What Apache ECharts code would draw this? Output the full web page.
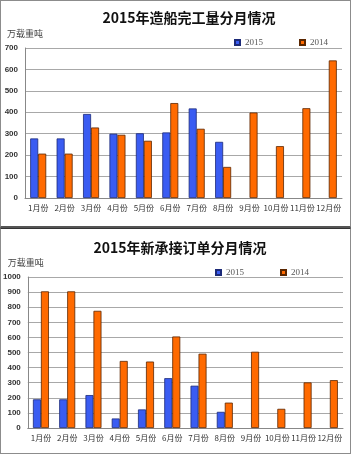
<!DOCTYPE html>
<html>
<head>
<meta charset="utf-8">
<script src="https://cdn.jsdelivr.net/npm/echarts@6/dist/echarts.min.js"></script>
<style>
html,body{margin:0;padding:0;background:#fff;width:351px;height:454px;overflow:hidden;}
.chart{position:absolute;left:0;width:351px;}
.frame{position:absolute;left:0;width:351px;box-sizing:border-box;border:1px solid #8c8c8c;pointer-events:none;}
#wg{top:0;height:228px;}
#dd{top:229px;height:225px;}
#f1{top:0;height:228px;border-bottom:2px solid #555;}
#f2{top:228px;height:226px;border-top:1px solid #333;}
</style>
</head>
<body>
<div id="wg" class="chart"></div>
<div id="dd" class="chart"></div>
<div id="f1" class="frame"></div>
<div id="f2" class="frame"></div>
<script>
	//月份
	var months = ['1月份','2月份','3月份','4月份','5月份','6月份','7月份','8月份','9月份','10月份','11月份','12月份'];
	var legendNames = ['2015','2014'];
	//造船完工量（万载重吨）
	var wg2015 = [278,278,392,300,302,306,418,262,null,null,null,null];
	var wg2014 = [207,207,329,295,267,443,323,145,399,242,419,642];
	//新承接订单（万载重吨）
	var dd2015 = [190,190,218,63,123,330,280,107,null,null,null,null];
	var dd2014 = [905,905,776,444,440,606,492,168,505,127,302,317];

	//渲染单个图表
	function chartRender(id, titleText, max, d2015, d2014, g){
		var chart = echarts.init(document.getElementById(id));
		chart.setOption({
			animation: false,
			title: {
				text: titleText,
				left: g.titleX,
				top: g.titleY,
				textAlign: 'center',
				textStyle: {fontSize: 14, fontWeight: 'bold', color: '#111', fontFamily: 'Noto Sans CJK SC'}
			},
			legend: {
				data: legendNames,
				left: g.legendX,
				top: g.legendY,
				icon: 'rect',
				itemWidth: 5,
				itemHeight: 5,
				itemGap: 36,
				textStyle: {fontSize: 9, color: '#555', fontFamily: 'Liberation Serif'}
			},
			grid: {left: g.left, right: g.right, top: g.top, height: g.height},
			xAxis: {
				type: 'category',
				data: months,
				axisLine: {lineStyle: {color: '#888'}},
				axisTick: {length: 3, lineStyle: {color: '#888'}},
				axisLabel: {interval: 0, fontSize: 8, margin: 6, color: '#333', fontFamily: 'Noto Sans CJK SC'}
			},
			yAxis: {
				type: 'value',
				min: 0,
				max: max,
				interval: 100,
				name: '万载重吨',
				nameLocation: 'end',
				nameGap: 10,
				nameTextStyle: {fontSize: 9, color: '#444', align: 'left', padding: [0,0,0,g.nameShift], fontFamily: 'Noto Sans CJK SC'},
				axisLine: {show: true, lineStyle: {color: '#888'}},
				axisTick: {show: false},
				splitLine: {lineStyle: {color: '#a8a8a8'}},
				axisLabel: {
					fontSize: 8, fontWeight: 'bold', color: '#333', margin: 7, fontFamily: 'Liberation Sans',
					formatter: function(v){ return String(v); }
				}
			},
			series: [{
				name: '2015',
				type: 'bar',
				data: d2015,
				barWidth: 8,
				barGap: '0%',
				itemStyle: {color: '#3a5cf2', borderColor: '#1c2a78', borderWidth: 0.8}
			},{
				name: '2014',
				type: 'bar',
				data: d2014,
				barWidth: 8,
				itemStyle: {color: '#ff6a00', borderColor: '#5a2600', borderWidth: 0.8}
			}]
		});
	}

	chartRender('wg', '2015年造船完工量分月情况', 700, wg2015, wg2014,
		{titleX: 184, titleY: 6, legendX: 229, legendY: 33, left: 25, right: 9, top: 48, height: 150, nameShift: -18});
	chartRender('dd', '2015年新承接订单分月情况', 1000, dd2015, dd2014,
		{titleX: 175, titleY: 7, legendX: 210, legendY: 34, left: 27, right: 8, top: 48, height: 151, nameShift: -20});
</script>
</body>
</html>
